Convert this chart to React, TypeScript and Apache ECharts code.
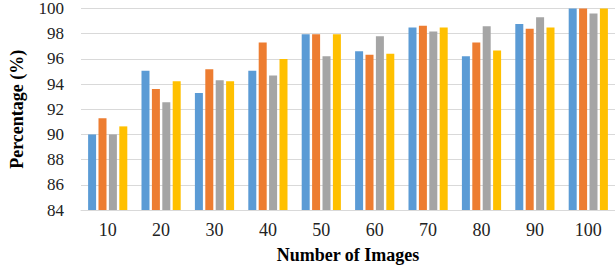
import React, { useEffect, useRef } from "react";
import * as echarts from "echarts";

const categories = ["10", "20", "30", "40", "50", "60", "70", "80", "90", "100"];
const seriesA = [90.0, 95.05, 93.3, 95.05, 97.95, 96.6, 98.5, 96.2, 98.77, 100];
const seriesB = [91.28, 93.6, 95.18, 97.3, 97.95, 96.33, 98.64, 97.3, 98.4, 100];
const seriesC = [90.0, 92.56, 94.3, 94.67, 96.2, 97.8, 98.18, 98.59, 99.3, 99.6];
const seriesD = [90.64, 94.23, 94.23, 96.0, 97.95, 96.4, 98.5, 96.67, 98.5, 100];
const colors = ["#5B9BD5", "#ED7D31", "#A5A5A5", "#FFC000"];
const yTicks = { min: 84, max: 100, interval: 2 };

const FONT = '"Liberation Serif", "Times New Roman", serif';

export default function App() {
  const ref = useRef<HTMLDivElement>(null);
  useEffect(() => {
    if (!ref.current) return;
    const chart = echarts.init(ref.current, undefined, { renderer: "svg" });
    const all = [seriesA, seriesB, seriesC, seriesD];
    chart.setOption({
      animation: false,
      backgroundColor: "#ffffff",
      grid: { left: 64, right: 0, top: 5, bottom: 56, containLabel: false },
      xAxis: {
        type: "category",
        data: categories,
        name: "Number of Images",
        nameLocation: "middle",
        nameGap: 36,
        nameTextStyle: { fontFamily: FONT, fontWeight: "bold", fontSize: 18, color: "#000" },
        axisLine: { show: true, lineStyle: { color: "#d9d9d9", width: 1 } },
        axisTick: { show: false },
        axisLabel: { fontFamily: FONT, fontSize: 18, color: "#222", margin: 11 },
      },
      yAxis: {
        type: "value",
        min: yTicks.min,
        max: yTicks.max,
        interval: yTicks.interval,
        name: "Percentage (%)",
        nameLocation: "middle",
        nameGap: 55,
        nameTextStyle: { fontFamily: FONT, fontWeight: "bold", fontSize: 18, color: "#000" },
        axisLine: { show: false },
        axisTick: { show: false },
        splitLine: { lineStyle: { color: "#d9d9d9", width: 1 } },
        axisLabel: { fontFamily: FONT, fontSize: 17, color: "#222", margin: 17 },
      },
      series: all.map((d, i) => ({
        type: "bar",
        data: d,
        barWidth: 8,
        barGap: "30%",
        itemStyle: { color: colors[i] },
      })),
    });
    return () => chart.dispose();
  }, []);
  return (
    <div
      ref={ref}
      style={{ position: "fixed", left: 0, top: 0, width: 615, height: 269 }}
    />
  );
}
